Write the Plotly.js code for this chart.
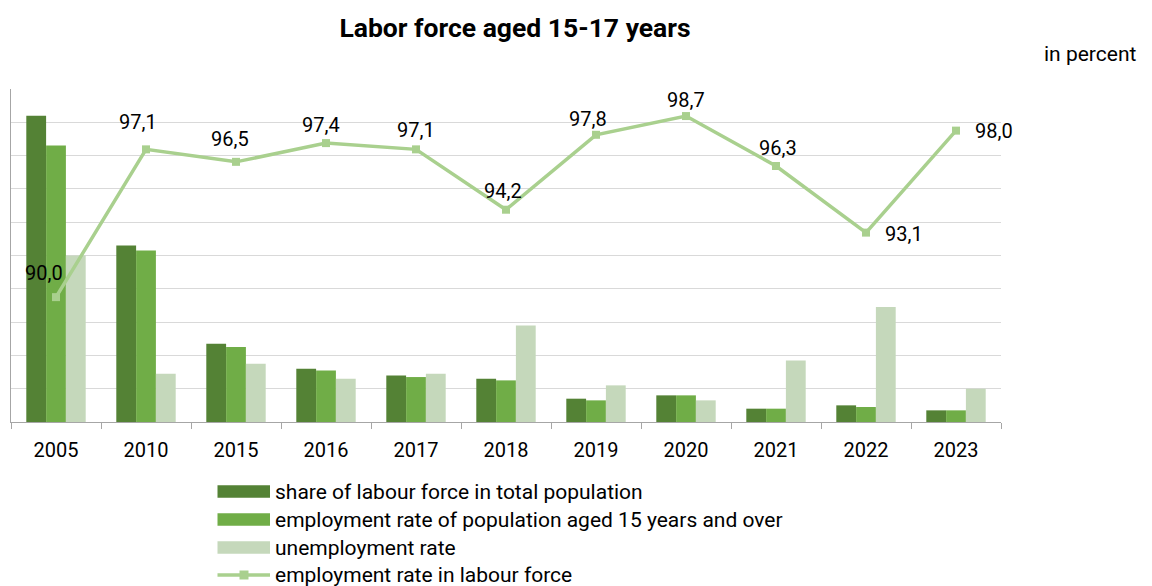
<!DOCTYPE html>
<html>
<head>
<meta charset="utf-8">
<script src="https://cdn.plot.ly/plotly-3.0.1.min.js"></script>
<style>
html,body{margin:0;padding:0;background:#fff;}
#chart{width:1152px;height:586px;}
</style>
</head>
<body>
<div id="chart"></div>
<script>
// ---- data ----
var years = ["2005","2010","2015","2016","2017","2018","2019","2020","2021","2022","2023"];
var shareLabourForce = [18.4, 10.6, 4.7, 3.2, 2.8, 2.6, 1.4, 1.6, 0.8, 1.0, 0.7];
var employmentRate15Plus = [16.6, 10.3, 4.5, 3.1, 2.7, 2.5, 1.3, 1.6, 0.8, 0.9, 0.7];
var unemploymentRate = [10.0, 2.9, 3.5, 2.6, 2.9, 5.8, 2.2, 1.3, 3.7, 6.9, 2.0];
var employmentRateLabourForce = [90.0, 97.1, 96.5, 97.4, 97.1, 94.2, 97.8, 98.7, 96.3, 93.1, 98.0];
var seriesNames = [
  "share of labour force in total population",
  "employment rate of population aged 15 years and over",
  "unemployment rate",
  "employment rate in labour force"
];
var titleText = "Labor force aged 15-17 years";
var unitText = "in percent";

// ---- style ----
var W = 1152, H = 586;
var M = {l: 11, r: 151, t: 89, b: 164};
var PW = W - M.l - M.r, PH = H - M.t - M.b;
function px2x(px){ return (px - M.l) / PW; }
function py2y(py){ return (H - M.b - py) / PH; }
var colors = ["#548235", "#70ad47", "#c5d8bb", "#a9d08e"];
var FONT = "Roboto, 'Noto Sans', Arial, sans-serif";
// label offsets (px) relative to each point: [dx, dy(up)]
var labelShift = [[-12,24],[-8,27],[-6,23],[-5,18],[0,19],[-3,19],[-8,16],[0,16],[2,18],[38,-1],[38,0]];

function fmt(v){ return v.toFixed(1).replace(".", ","); }

var traces = [
  {type:"bar", x:years, y:shareLabourForce, name:seriesNames[0], marker:{color:colors[0]}, showlegend:false, hoverinfo:"y"},
  {type:"bar", x:years, y:employmentRate15Plus, name:seriesNames[1], marker:{color:colors[1]}, showlegend:false, hoverinfo:"y"},
  {type:"bar", x:years, y:unemploymentRate, name:seriesNames[2], marker:{color:colors[2]}, showlegend:false, hoverinfo:"y"},
  {type:"scatter", mode:"lines+markers", x:years, y:employmentRateLabourForce, yaxis:"y2", name:seriesNames[3],
   line:{color:colors[3], width:3.5}, marker:{symbol:"square", size:8, color:colors[3]}, showlegend:false, hoverinfo:"y"}
];

var annotations = [];
for (var i = 0; i < years.length; i++) {
  annotations.push({
    x: i, y: employmentRateLabourForce[i], xref:"x", yref:"y2",
    text: fmt(employmentRateLabourForce[i]), showarrow:false,
    xanchor:"center", yanchor:"middle",
    xshift: labelShift[i][0], yshift: labelShift[i][1],
    font:{family:FONT, size:20, color:"#000"}
  });
}
annotations.push({
  x: px2x(1138), y: py2y(54), xref:"paper", yref:"paper", text: unitText, showarrow:false,
  xanchor:"right", yanchor:"middle", font:{family:FONT, size:21, color:"#000"}
});

// custom legend
var shapes = [];
var legX0 = 217.5, legX1 = 270, legTextX = 274, rowY = [491.5, 519.5, 547.5, 575];
for (var k = 0; k < 3; k++) {
  shapes.push({type:"rect", xref:"paper", yref:"paper",
    x0: px2x(legX0), x1: px2x(legX1), y0: py2y(rowY[k] - 6.2), y1: py2y(rowY[k] + 6.2),
    fillcolor: colors[k], line:{width:0}});
}
shapes.push({type:"line", xref:"paper", yref:"paper",
  x0: px2x(legX0), x1: px2x(legX1), y0: py2y(rowY[3]), y1: py2y(rowY[3]),
  line:{color:colors[3], width:3.5}});
shapes.push({type:"rect", xref:"paper", yref:"paper",
  x0: px2x(239.5), x1: px2x(248.5), y0: py2y(rowY[3] - 4.5), y1: py2y(rowY[3] + 4.5),
  fillcolor: colors[3], line:{width:0}});
for (var k2 = 0; k2 < 4; k2++) {
  annotations.push({x: px2x(legTextX), y: py2y(rowY[k2]), xref:"paper", yref:"paper",
    text: seriesNames[k2], showarrow:false, xanchor:"left", yanchor:"middle", borderpad:0,
    font:{family:FONT, size:21, color:"#000"}});
}

var layout = {
  width: W, height: H,
  margin: {l: M.l, r: M.r, t: M.t, b: M.b},
  paper_bgcolor:"#fff", plot_bgcolor:"#fff",
  font:{family:FONT, color:"#000"},
  title:{text:"<b>" + titleText + "</b>", font:{family:FONT, size:26.5, color:"#000"},
         xref:"paper", x: px2x(515), xanchor:"center", yref:"container", y: 1 - 28/H, yanchor:"middle"},
  barmode:"group", bargap:0.34, bargroupgap:0,
  showlegend:false,
  xaxis:{type:"category", categoryorder:"array", categoryarray:years, range:[-0.5, years.length - 0.5],
         autorange:false, tickson:"boundaries", ticks:"outside", ticklen:6, tickcolor:"#a6a6a6",
         ticklabelstandoff:10,
         showline:true, linecolor:"#a6a6a6", linewidth:1, showgrid:false, tickangle:0,
         tickfont:{family:FONT, size:20, color:"#000"}, fixedrange:true},
  yaxis:{range:[0,20], dtick:2, showticklabels:false, ticks:"", showgrid:true, gridcolor:"#d9d9d9", gridwidth:1,
         showline:true, linecolor:"#a6a6a6", zeroline:false, fixedrange:true},
  yaxis2:{range:[84,100], overlaying:"y", side:"right", showticklabels:false, showgrid:false, zeroline:false,
          showline:false, ticks:"", fixedrange:true},
  annotations: annotations,
  shapes: shapes
};

Plotly.newPlot("chart", traces, layout, {displayModeBar:false, staticPlot:true});
</script>
</body>
</html>
